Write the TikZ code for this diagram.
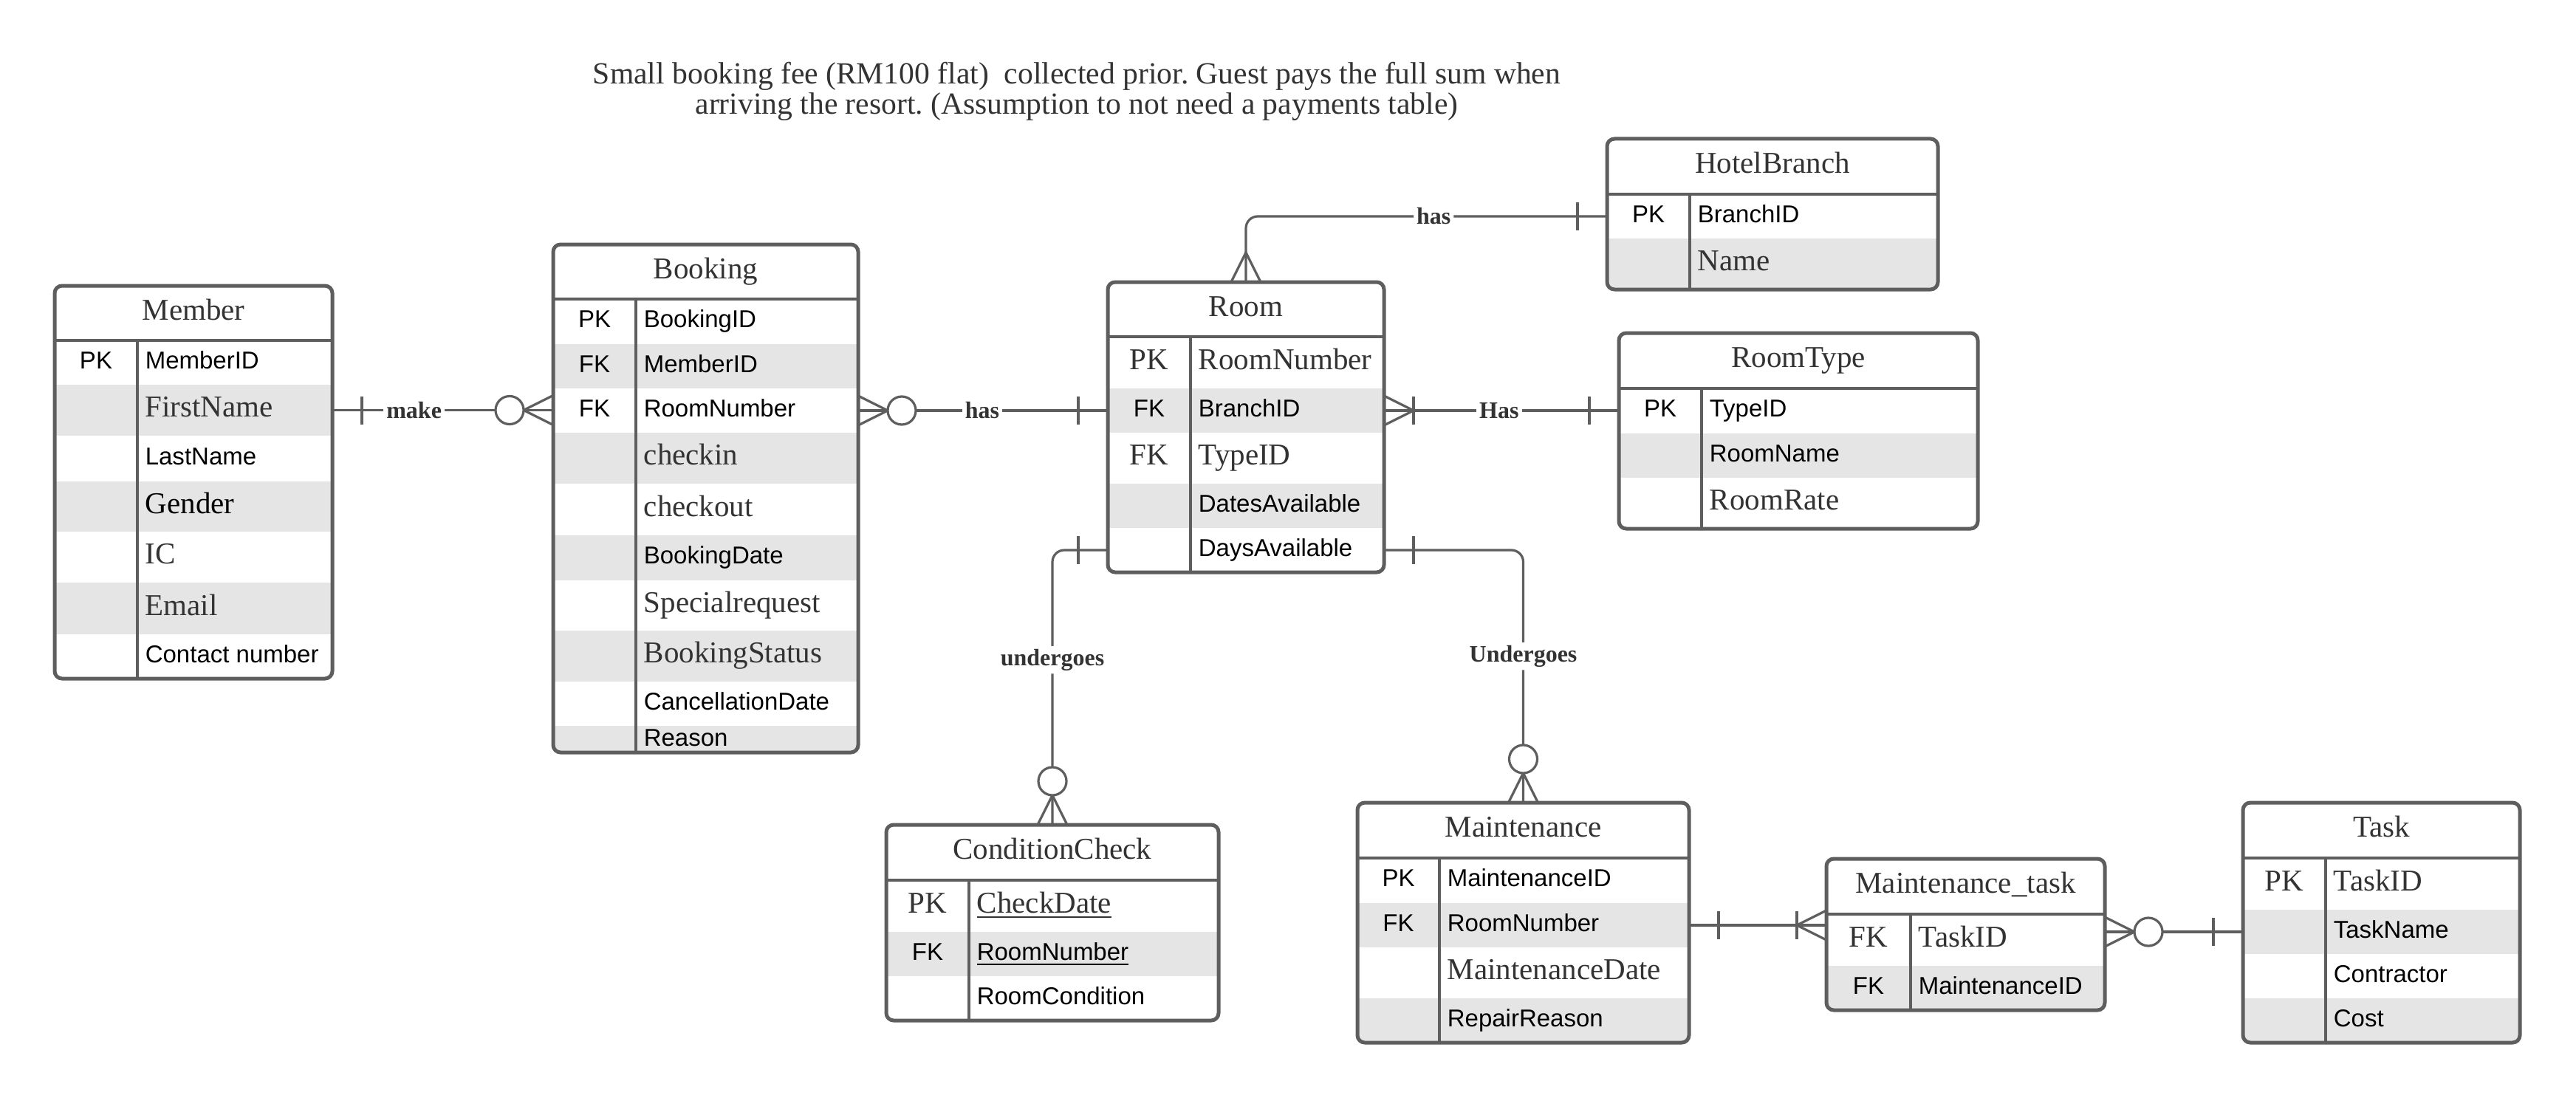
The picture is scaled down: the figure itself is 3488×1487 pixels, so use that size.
\documentclass[tikz,border=0pt]{standalone}
\usepackage{fontspec}
\setmainfont{Liberation Serif}
\setsansfont{Liberation Sans}
\usetikzlibrary{calc}
\frenchspacing
\definecolor{lc}{HTML}{5E5E5E}
\definecolor{tc}{HTML}{333333}
\definecolor{rg}{HTML}{E5E5E5}
\tikzset{
 entbox/.style={draw=lc, line width=1.25pt, rounded corners=2.5pt, inner sep=0pt, outer sep=0pt},
 entl/.style={draw=lc, line width=1.1pt},
 rowbg/.style={draw=none, inner sep=0pt, outer sep=0pt},
 rel/.style={draw=lc, line width=0.8pt},
 ttl/.style={font=\fontsize{10.25pt}{12pt}\selectfont, text=tc, inner sep=0pt, text height=6.8pt, text depth=2.25pt},
 sa/.style={font=\sffamily\fontsize{8.25pt}{10pt}\selectfont, text=black, inner sep=0pt, text height=5.9pt, text depth=1.75pt, anchor=west},
 se/.style={font=\fontsize{10.25pt}{12pt}\selectfont, text=tc, inner sep=0pt, text height=6.8pt, text depth=2.25pt, anchor=west},
 sek/.style={se, text=black},
 ksa/.style={sa, anchor=center},
 kse/.style={se, anchor=center},
 lbl/.style={font=\bfseries\fontsize{8pt}{10pt}\selectfont, text=tc, fill=white, inner sep=1pt},
 note/.style={font=\fontsize{10.4pt}{10.4pt}\selectfont, text=tc, align=center, inner sep=0pt},
}
% table helpers
\newcommand\entopen[5]{\def\Xa{#1}\def\Xb{#2}\def\Xd{#3}\def\Yt{#4}\def\Yb{#5}%
 \begin{scope}\clip[rounded corners=2.5pt] (#1,#4) rectangle (#2,#5);}
\newcommand\erow[9]{% id, idx, y1, y2, fill, key, keystyle, attr, attrstyle
 \node[rowbg, fill=#5, minimum width={(\Xb-\Xa)*0.25pt}, minimum height={(#4-#3)*0.25pt}, anchor=north west] (#1-r#2) at (\Xa,#3) {};
 \node[#7] (#1-k#2) at ({(\Xa+\Xd)/2},{(#3+#4)/2}) {#6};
 \node[#9] (#1-a#2) at ({\Xd+10},{(#3+#4)/2}) {#8};}
\newcommand\entclose[3]{% id, title, ytitle
 \end{scope}
 \node[ttl] (#1-t) at ({(\Xa+\Xb)/2},{(\Yt+#3)/2}) {#2};
 \draw[entl] (\Xa,#3) -- (\Xb,#3);
 \draw[entl] (\Xd,#3) -- (\Xd,\Yb);
 \node[entbox, minimum width={(\Xb-\Xa)*0.25pt}, minimum height={(\Yb-\Yt)*0.25pt}, anchor=north west] (#1) at (\Xa,\Yt) {};}
% connector ends
\newcommand\cbar[2]{\begin{scope}[shift={(#1)},rotate=#2]\draw[rel] (40,-19) -- (40,19);\end{scope}}
\newcommand\cmany[2]{\begin{scope}[shift={(#1)},rotate=#2]\draw[rel] (0,20) -- (40,0) -- (0,-20);\end{scope}}
\newcommand\czero[2]{\begin{scope}[shift={(#1)},rotate=#2]\draw[rel] (0,20) -- (40,0) -- (0,-20);\draw[rel, fill=white] (59,0) circle[radius=19];\end{scope}}
\begin{document}
\begin{tikzpicture}[x=0.25pt, y=-0.25pt]
\fill[white] (0,0) rectangle (3488,1487);
\useasboundingbox (0,0) rectangle (3488,1487);

\node[note] (topnote) at (1458,124) {Small booking fee (RM100 flat)\ \ collected prior. Guest pays the full sum when\\arriving the resort. (Assumption to not need a payments table)};

% Member
\entopen{74}{450}{186}{387}{919}
\erow{mem}{1}{461}{521}{white}{PK}{ksa}{MemberID}{sa}
\erow{mem}{2}{521}{590}{rg}{}{ksa}{FirstName}{se}
\erow{mem}{3}{590}{652}{white}{}{ksa}{LastName}{sa}
\erow{mem}{4}{652}{720}{rg}{}{ksa}{Gender}{sek}
\erow{mem}{5}{720}{789}{white}{}{ksa}{IC}{se}
\erow{mem}{6}{789}{859}{rg}{}{ksa}{Email}{se}
\erow{mem}{7}{859}{919}{white}{}{ksa}{Contact number}{sa}
\entclose{mem}{Member}{461}

% Booking
\entopen{749}{1162}{861}{331}{1019}
\erow{book}{1}{405}{466}{white}{PK}{ksa}{BookingID}{sa}
\erow{book}{2}{466}{526}{rg}{FK}{ksa}{MemberID}{sa}
\erow{book}{3}{526}{586}{white}{FK}{ksa}{RoomNumber}{sa}
\erow{book}{4}{586}{655}{rg}{}{ksa}{checkin}{se}
\erow{book}{5}{655}{725}{white}{}{ksa}{checkout}{se}
\erow{book}{6}{725}{786}{rg}{}{ksa}{BookingDate}{sa}
\erow{book}{7}{786}{854}{white}{}{ksa}{Specialrequest}{se}
\erow{book}{8}{854}{923}{rg}{}{ksa}{BookingStatus}{se}
\erow{book}{9}{923}{983}{white}{}{ksa}{CancellationDate}{sa}
\erow{book}{10}{983}{1021}{rg}{}{ksa}{Reason}{sa}
\entclose{book}{Booking}{405}

% Room
\entopen{1500}{1874}{1612}{382}{775}
\erow{room}{1}{456}{526}{white}{PK}{kse}{RoomNumber}{se}
\erow{room}{2}{526}{586}{rg}{FK}{ksa}{BranchID}{sa}
\erow{room}{3}{586}{655}{white}{FK}{kse}{TypeID}{se}
\erow{room}{4}{655}{715}{rg}{}{ksa}{DatesAvailable}{sa}
\erow{room}{5}{715}{775}{white}{}{ksa}{DaysAvailable}{sa}
\entclose{room}{Room}{456}

% HotelBranch
\entopen{2176}{2624}{2288}{188}{392}
\erow{hb}{1}{263}{323}{white}{PK}{ksa}{BranchID}{sa}
\erow{hb}{2}{323}{392}{rg}{}{ksa}{Name}{se}
\entclose{hb}{HotelBranch}{263}

% RoomType
\entopen{2192}{2678}{2304}{451}{716}
\erow{rt}{1}{526}{587}{white}{PK}{ksa}{TypeID}{sa}
\erow{rt}{2}{587}{647}{rg}{}{ksa}{RoomName}{sa}
\erow{rt}{3}{647}{716}{white}{}{ksa}{RoomRate}{se}
\entclose{rt}{RoomType}{526}

% ConditionCheck
\entopen{1200}{1650}{1312}{1117}{1382}
\erow{cc}{1}{1192}{1262}{white}{PK}{kse}{\underline{CheckDate}}{se}
\erow{cc}{2}{1262}{1322}{rg}{FK}{ksa}{\underline{RoomNumber}}{sa}
\erow{cc}{3}{1322}{1382}{white}{}{ksa}{RoomCondition}{sa}
\entclose{cc}{ConditionCheck}{1192}

% Maintenance
\entopen{1838}{2287}{1949}{1087}{1412}
\erow{mt}{1}{1162}{1223}{white}{PK}{ksa}{MaintenanceID}{sa}
\erow{mt}{2}{1223}{1283}{rg}{FK}{ksa}{RoomNumber}{sa}
\erow{mt}{3}{1283}{1352}{white}{}{ksa}{MaintenanceDate}{se}
\erow{mt}{4}{1352}{1412}{rg}{}{ksa}{RepairReason}{sa}
\entclose{mt}{Maintenance}{1162}

% Maintenance_task
\entopen{2473}{2850}{2587}{1163}{1368}
\erow{mtk}{1}{1238}{1308}{white}{FK}{kse}{TaskID}{se}
\erow{mtk}{2}{1308}{1368}{rg}{FK}{ksa}{MaintenanceID}{sa}
\entclose{mtk}{Maintenance\_task}{1238}

% Task
\entopen{3037}{3412}{3149}{1087}{1412}
\erow{task}{1}{1162}{1232}{white}{PK}{kse}{TaskID}{se}
\erow{task}{2}{1232}{1292}{rg}{}{ksa}{TaskName}{sa}
\erow{task}{3}{1292}{1352}{white}{}{ksa}{Contractor}{sa}
\erow{task}{4}{1352}{1412}{rg}{}{ksa}{Cost}{sa}
\entclose{task}{Task}{1162}

% connectors
\draw[rel] (mem-r2.east) -- (book-r3.west |- mem-r2.east) node[lbl, pos=0.37] (lmake) {make};
\cbar{mem-r2.east}{0}
\czero{book-r3.west |- mem-r2.east}{180}

\draw[rel] (book-r3.east) -- (room-r2.west) node[lbl, pos=0.497] (lhas1) {has};
\czero{book-r3.east}{0}
\cbar{room-r2.west}{180}

\draw[rel, rounded corners=4pt] (room.north) |- (hb-r1.west) node[lbl, pos=0.76] (lhas2) {has};
\cmany{room.north}{90}
\cbar{hb-r1.west}{180}

\draw[rel] (room-r2.east) -- (rt-r1.west |- room-r2.east) node[lbl, pos=0.49] (lhas3) {Has};
\cmany{room-r2.east}{0}
\cbar{room-r2.east}{0}
\cbar{rt-r1.west |- room-r2.east}{180}

\draw[rel, rounded corners=4pt] (room-r5.west) -| (cc.north) node[lbl, pos=0.70] (lund1) {undergoes};
\cbar{room-r5.west}{180}
\czero{cc.north}{90}

\draw[rel, rounded corners=4pt] (room-r5.east) -| (mt.north) node[lbl, pos=0.71] (lund2) {Undergoes};
\cbar{room-r5.east}{0}
\czero{mt.north}{90}

\draw[rel] (mt-r2.east) -- (mtk.west |- mt-r2.east);
\cbar{mt-r2.east}{0}
\cmany{mtk.west |- mt-r2.east}{180}
\cbar{mtk.west |- mt-r2.east}{180}

\draw[rel] (mtk.east |- task-r2.west) -- (task-r2.west);
\czero{mtk.east |- task-r2.west}{0}
\cbar{task-r2.west}{180}
\end{tikzpicture}
\end{document}
